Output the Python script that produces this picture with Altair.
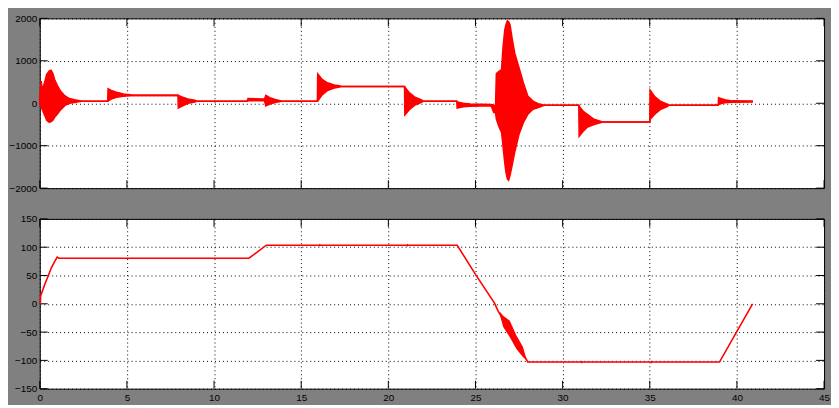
import altair as alt
import pandas as pd

# ---------------- data ----------------
# Top panel: envelope of the oscillating signal (upper / lower value at time t)
top_t = [0.00, 0.02, 0.08, 0.15, 0.25, 0.40, 0.55, 0.65, 0.75, 0.85, 1.00, 1.20, 1.45, 1.70, 2.00, 2.30, 2.45,
         3.90, 3.92, 4.10, 4.40, 4.80, 5.20, 5.30,
         7.93, 7.95, 8.20, 8.50, 8.90, 9.00,
         11.90, 11.95, 12.90, 12.97, 13.20, 13.50, 13.80, 13.90,
         15.93, 15.95, 16.20, 16.50, 16.90, 17.20, 17.30,
         20.93, 20.95, 21.20, 21.50, 21.90, 22.00,
         23.93, 23.95, 24.30, 24.70, 25.90, 26.05, 26.15, 26.20, 26.35, 26.50, 26.58, 26.68, 26.75, 26.83,
         26.90, 26.98, 27.10, 27.25, 27.50, 27.75, 28.00, 28.30, 28.60, 28.95,
         30.93, 30.95, 31.20, 31.40, 31.80, 32.30,
         35.00, 35.02, 35.30, 35.60, 36.00, 36.10,
         38.93, 38.95, 39.30, 39.70, 40.92]
top_hi = [0, 250, 520, 300, 450, 680, 760, 776, 700, 560, 420, 280, 170, 110, 80, 60, 47,
          47, 340, 300, 260, 220, 200, 186,
          186, 180, 140, 100, 70, 47,
          47, 110, 100, 186, 130, 90, 60, 47,
          47, 690, 560, 480, 430, 410, 396,
          396, 380, 250, 150, 80, 47,
          47, 30, 0, -20, -30, -47, -100, 700, 750, 792, 1300, 1725, 1850, 1942,
          1920, 1850, 1529, 1180, 830, 480, 170, 50, -10, -47,
          -47, -70, -200, -256, -380, -443,
          -443, 310, 150, 50, -20, -47,
          -47, 130, 80, 55, 50]
top_lo = [0, -50, -100, -150, -250, -400, -450, -430, -400, -330, -260, -150, -50, 0, 20, 40, 47,
          47, 60, 100, 140, 165, 180, 186,
          186, -110, -60, 0, 30, 47,
          47, 60, 60, -62, -20, 20, 40, 47,
          47, 55, 200, 300, 360, 385, 396,
          396, -273, -150, -50, 20, 47,
          47, -110, -80, -70, -60, -219, -220, -373, -550, -685, -1000, -1400, -1617, -1780,
          -1811, -1700, -1462, -1151, -722, -452, -260, -140, -100, -47,
          -47, -778, -650, -568, -500, -443,
          -443, -373, -250, -150, -80, -47,
          -47, -23, 10, 25, 30]

# Bottom panel: main trace
bot_t = [0.00, 0.03, 0.05, 0.29, 0.48, 0.67, 0.86, 1.00, 1.10, 12.00, 13.00, 23.95, 25.00,
         26.10, 26.30, 27.95, 28.00, 39.00, 40.90]
bot_v = [0, 0, 14, 34.6, 49, 64, 75, 82.5, 80.5, 80.5, 103.5, 103.5, 52,
         0.7, -13, -100, -103, -103, 0]

# Bottom panel: jitter bands around the trace
band_seg = ["a"] * 6 + ["b"] * 3 + ["c"] * 3 + ["d"] * 3 + ["e"] * 3
band_t = [26.40, 26.59, 26.97, 27.35, 27.72, 27.95,
          16.02, 16.07, 16.12,
          21.05, 21.10, 21.15,
          31.05, 31.10, 31.15,
          35.05, 35.10, 35.15]
band_hi = [-14, -21, -30, -56, -76, -100,
           103.5, 106.5, 103.5,
           103.5, 106.5, 103.5,
           -103, -100, -103,
           -103, -100, -103]
band_lo = [-20, -41, -59, -80, -94, -100,
           103.5, 100.5, 103.5,
           103.5, 100.5, 103.5,
           -103, -106, -103,
           -103, -106, -103]

x_ticks = [0, 5, 10, 15, 20, 25, 30, 35, 40, 45]
top_y_ticks = [-2000, -1000, 0, 1000, 2000]
bot_y_ticks = [-150, -100, -50, 0, 50, 100, 150]

# ---------------- styling ----------------
W, H = 790, 171
TL = 8
RED = "#ff0000"
FONT = "Liberation Sans"
FS = 10

df_top = pd.DataFrame({"t": top_t, "hi": top_hi, "lo": top_lo})
df_bot = pd.DataFrame({"t": bot_t, "v": bot_v})
df_band = pd.DataFrame({"seg": band_seg, "t": band_t, "hi": band_hi, "lo": band_lo})
df_xt = pd.DataFrame({"xt": x_ticks})

xscale = alt.Scale(domain=[0, 45], nice=False, zero=False)


def xaxis(labels):
    return alt.Axis(values=x_ticks, labels=labels, title=None, grid=True, ticks=False, domain=False,
                    labelFlush=False, labelPadding=4, format="d")


def yaxis(vals):
    return alt.Axis(values=vals, title=None, grid=True, ticks=False, domain=False, labelPadding=3,
                    format="d")


def inner_ticks(yvals, yscale, ax_x, ax_y):
    df_yt = pd.DataFrame({"yt": yvals})
    base_x = alt.Chart(df_xt).mark_rule(color="black", strokeWidth=1)
    base_y = alt.Chart(df_yt).mark_rule(color="black", strokeWidth=1)
    xe = alt.X("xt:Q", scale=xscale, axis=ax_x)
    ye = alt.Y("yt:Q", scale=yscale, axis=ax_y)
    return [
        base_x.encode(x=xe, y=alt.value(0), y2=alt.value(TL)),
        base_x.encode(x=xe, y=alt.value(H - TL), y2=alt.value(H)),
        base_y.encode(y=ye, x=alt.value(0), x2=alt.value(TL)),
        base_y.encode(y=ye, x=alt.value(W - TL), x2=alt.value(W)),
    ]


# ---- top panel ----
ys_top = alt.Scale(domain=[-2000, 2000], nice=False, zero=False)
axx_t = xaxis(False)
axy_t = yaxis(top_y_ticks)
xe_t = alt.X("t:Q", scale=xscale, axis=axx_t)
top_area = alt.Chart(df_top).mark_area(color=RED, opacity=1, interpolate="linear").encode(
    x=xe_t, y=alt.Y("hi:Q", scale=ys_top, axis=axy_t), y2="lo:Q")
top_hi_line = alt.Chart(df_top).mark_line(color=RED, strokeWidth=1.6).encode(
    x=xe_t, y=alt.Y("hi:Q", scale=ys_top, axis=axy_t))
top_lo_line = alt.Chart(df_top).mark_line(color=RED, strokeWidth=1.6).encode(
    x=xe_t, y=alt.Y("lo:Q", scale=ys_top, axis=axy_t))
top = alt.layer(*inner_ticks(top_y_ticks, ys_top, axx_t, axy_t), top_area, top_hi_line, top_lo_line).properties(
    width=W, height=H)

# ---- bottom panel ----
ys_bot = alt.Scale(domain=[-150, 150], nice=False, zero=False)
axx_b = xaxis(True)
axy_b = yaxis(bot_y_ticks)
xe_b = alt.X("t:Q", scale=xscale, axis=axx_b)
bot_band = alt.Chart(df_band).mark_area(color=RED, opacity=1).encode(
    x=xe_b, y=alt.Y("hi:Q", scale=ys_bot, axis=axy_b), y2="lo:Q", detail="seg:N")
bot_line = alt.Chart(df_bot).mark_line(color=RED, strokeWidth=1.6).encode(
    x=xe_b, y=alt.Y("v:Q", scale=ys_bot, axis=axy_b))
bottom = alt.layer(*inner_ticks(bot_y_ticks, ys_bot, axx_b, axy_b), bot_band, bot_line).properties(
    width=W, height=H)

chart = alt.vconcat(top, bottom, spacing=31, bounds="flush").properties(
    background="#808080",
    padding={"left": 0, "top": 3, "right": 0, "bottom": 0},
).configure_view(
    fill="white", stroke="black", strokeWidth=1
).configure_axis(
    gridColor="black", gridDash=[1, 3], gridOpacity=1, gridWidth=1,
    labelFont=FONT, labelFontSize=FS, labelColor="black"
)

chart.save("out.html", embed_options={"renderer": "svg", "actions": False})
